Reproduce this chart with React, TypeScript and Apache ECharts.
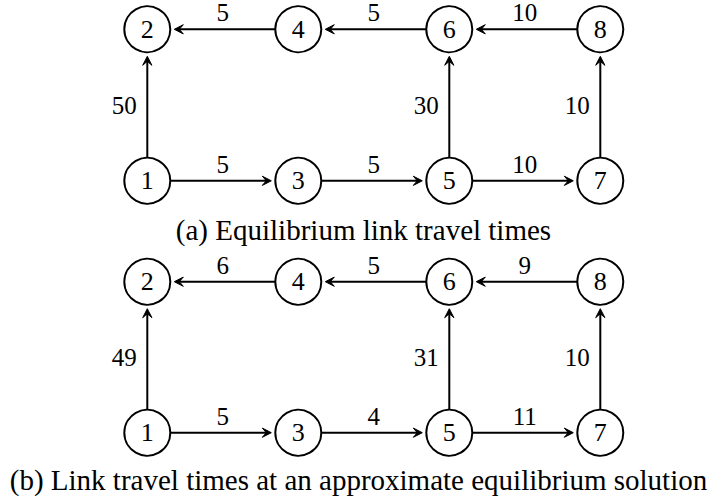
import React, { useEffect, useRef } from "react";
import * as echarts from "echarts";

// Nodes of the network: column (0..3) and row (0 = bottom, 1 = top)
const nodeNames = ["1", "2", "3", "4", "5", "6", "7", "8"];
const nodeCol = [0, 0, 1, 1, 2, 2, 3, 3];
const nodeRow = [0, 1, 0, 1, 0, 1, 0, 1];

// Directed links (from node, to node), by node name
const linkFrom = ["1", "1", "3", "5", "5", "7", "4", "6", "8"];
const linkTo = ["2", "3", "5", "6", "7", "8", "2", "4", "6"];

// Link travel times
const equilibriumTimes = [50, 5, 5, 30, 10, 10, 5, 5, 10];
const approximateTimes = [49, 5, 4, 31, 11, 10, 6, 5, 9];

const captionA = "(a) Equilibrium link travel times";
const captionB = "(b) Link travel times at an approximate equilibrium solution";

const FONT = "Liberation Serif";
const R = 23;

function idx(name: string) {
  return nodeNames.indexOf(name);
}

function edgeData(times: number[]) {
  return linkFrom.map((f, i) => {
    const a = idx(f);
    const b = idx(linkTo[i]);
    return [nodeCol[a], nodeRow[a], nodeCol[b], nodeRow[b], times[i]];
  });
}

function nodeData() {
  return nodeNames.map((n, i) => ({ name: n, value: [nodeCol[i], nodeRow[i]] }));
}

function renderEdge(params: any, api: any) {
  const p1 = api.coord([api.value(0), api.value(1)]);
  const p2 = api.coord([api.value(2), api.value(3)]);
  const label = String(api.value(4));
  const dx = p2[0] - p1[0];
  const dy = p2[1] - p1[1];
  const len = Math.sqrt(dx * dx + dy * dy);
  const ux = dx / len;
  const uy = dy / len;
  const nx = -uy;
  const ny = ux;
  const sx = p1[0] + ux * R;
  const sy = p1[1] + uy * R;
  const tx = p2[0] - ux * (R + 4);
  const ty = p2[1] - uy * (R + 4);
  const headLen = 9;
  const headHalf = 4.6;
  const notch = 5;
  const horizontal = Math.abs(dy) < 1;
  const mx = (p1[0] + p2[0]) / 2;
  const my = (p1[1] + p2[1]) / 2;
  const lx = horizontal ? mx : mx - 23;
  const ly = horizontal ? my - 16.5 : my;
  return {
    type: "group",
    children: [
      {
        type: "line",
        shape: { x1: sx, y1: sy, x2: tx - ux * 3, y2: ty - uy * 3 },
        style: { stroke: "#000", lineWidth: 2 },
      },
      {
        type: "polygon",
        shape: {
          points: [
            [tx, ty],
            [tx - ux * headLen + nx * headHalf, ty - uy * headLen + ny * headHalf],
            [tx - ux * notch, ty - uy * notch],
            [tx - ux * headLen - nx * headHalf, ty - uy * headLen - ny * headHalf],
          ],
        },
        style: { fill: "#000", stroke: "#000", lineWidth: 1, lineJoin: "miter" },
      },
      {
        type: "text",
        style: {
          text: label,
          x: lx,
          y: ly,
          align: "center",
          verticalAlign: "middle",
          font: "25px 'Liberation Serif'",
          fontSize: 25,
          fontFamily: FONT,
          fill: "#000",
        },
      },
    ],
  };
}

export default function App() {
  const ref = useRef<HTMLDivElement>(null);
  useEffect(() => {
    if (!ref.current) return;
    const chart = echarts.init(ref.current, undefined, { renderer: "svg" });
    const grids = [
      { left: 147.3, width: 453, top: 29.3, height: 151.5 },
      { left: 147.3, width: 453, top: 281.7, height: 151 },
    ];
    const axisBase = { show: false, type: "value" as const };
    chart.setOption({
      animation: false,
      backgroundColor: "#ffffff",
      textStyle: { fontFamily: FONT },
      grid: grids,
      xAxis: [
        { ...axisBase, gridIndex: 0, min: 0, max: 3 },
        { ...axisBase, gridIndex: 1, min: 0, max: 3 },
      ],
      yAxis: [
        { ...axisBase, gridIndex: 0, min: 0, max: 1 },
        { ...axisBase, gridIndex: 1, min: 0, max: 1 },
      ],
      series: [
        {
          type: "custom",
          xAxisIndex: 0,
          yAxisIndex: 0,
          renderItem: renderEdge,
          data: edgeData(equilibriumTimes),
          encode: { x: [0, 2], y: [1, 3] },
          clip: false,
          z: 1,
        },
        {
          type: "custom",
          xAxisIndex: 1,
          yAxisIndex: 1,
          renderItem: renderEdge,
          data: edgeData(approximateTimes),
          encode: { x: [0, 2], y: [1, 3] },
          clip: false,
          z: 1,
        },
        ...[0, 1].map((g) => ({
          type: "scatter",
          xAxisIndex: g,
          yAxisIndex: g,
          data: nodeData(),
          symbol: "circle",
          symbolSize: 46,
          itemStyle: { color: "#fff", borderColor: "#000", borderWidth: 2, opacity: 1 },
          label: {
            show: true,
            position: "inside",
            formatter: (p: any) => p.name,
            fontSize: 26,
            fontFamily: FONT,
            color: "#000",
          },
          emphasis: { disabled: true },
          z: 3,
        })),
      ],
      graphic: [
        {
          type: "text",
          x: 363.5,
          y: 230,
          style: {
            text: captionA,
            align: "center",
            verticalAlign: "middle",
            fontSize: 29,
            fontFamily: FONT,
            fill: "#000",
          },
        },
        {
          type: "text",
          x: 358.5,
          y: 480,
          style: {
            text: captionB,
            align: "center",
            verticalAlign: "middle",
            fontSize: 29,
            fontFamily: FONT,
            fill: "#000",
          },
        },
      ],
    });
    return () => chart.dispose();
  }, []);
  return (
    <div
      ref={ref}
      style={{ position: "fixed", left: 0, top: 0, width: 718, height: 499, background: "#fff" }}
    />
  );
}
